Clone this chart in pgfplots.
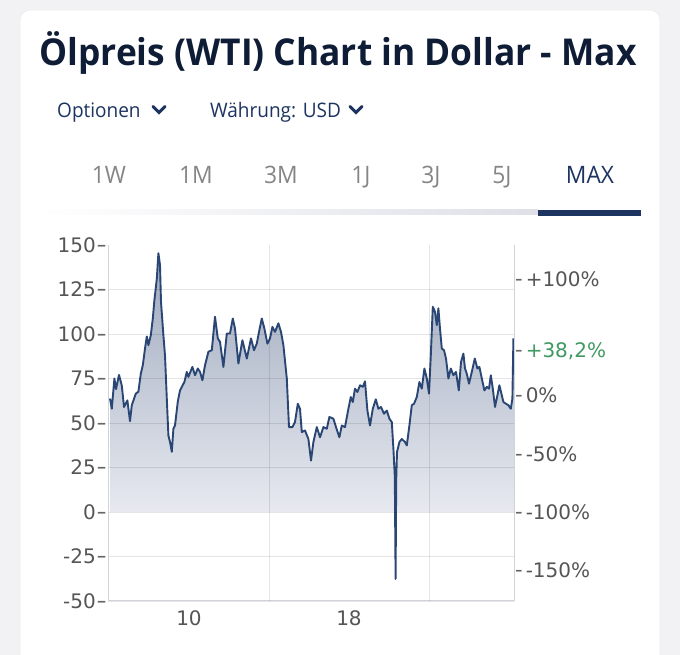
\documentclass[border=0pt]{standalone}
\usepackage{pgfplots}
\pgfplotsset{compat=1.18}
\usepackage{pgfplotstable}
\usepackage{fontspec}
\setmainfont{Open Sans}
\newfontfamily\tickfont{DejaVu Sans}
\definecolor{titlec}{HTML}{0E1C36}
\definecolor{uinavy}{HTML}{1D3460}
\definecolor{tabgray}{HTML}{858585}
\definecolor{linec}{HTML}{2A4674}
\definecolor{axisc}{HTML}{D0D3DA}
\definecolor{labc}{HTML}{555555}
\definecolor{tickc}{HTML}{666666}
\definecolor{greenc}{HTML}{3F9A62}
\definecolor{bgc}{HTML}{F2F2F4}
\definecolor{fillTop}{HTML}{9EA9BE}
\definecolor{fillBot}{HTML}{FAFAFC}
\definecolor{barc}{HTML}{DFE0E7}
\newcommand{\lt}[1]{#1\hspace{1pt}\textcolor{tickc}{\scalebox{0.6}[1]{−}}}
\newcommand{\rt}[1]{\textcolor{tickc}{\scalebox{0.45}[1]{−}}\hspace{3pt}#1}

\pgfplotstableread{
x y
2006.05 63.7
2006.14 58
2006.27 75
2006.35 69
2006.50 77
2006.64 71
2006.75 59
2006.92 62.7
2007.05 51
2007.14 60
2007.34 66.5
2007.47 67.6
2007.59 77.7
2007.69 82.4
2007.80 91.8
2007.89 98.6
2007.97 93.7
2008.09 99.3
2008.19 108.7
2008.27 119
2008.39 131
2008.47 145.4
2008.55 138.8
2008.60 118
2008.72 99.3
2008.80 88
2008.89 63.7
2008.97 43
2009.05 39.4
2009.14 33.8
2009.22 46.8
2009.30 48.6
2009.44 62
2009.55 68.3
2009.67 71
2009.77 73
2009.89 78.7
2009.97 75.9
2010.17 81.5
2010.30 76.8
2010.44 80.6
2010.55 78.7
2010.67 74
2010.80 82.4
2010.97 90
2011.14 90.9
2011.30 109.7
2011.44 97.5
2011.55 95.6
2011.72 81.5
2011.89 100.3
2012.05 100.3
2012.19 108.7
2012.30 103
2012.47 83.4
2012.67 96.5
2012.89 86.2
2013.10 97.5
2013.25 90.9
2013.39 94.6
2013.50 101.2
2013.64 108.7
2013.77 103
2013.92 94.6
2014.05 97.5
2014.17 104
2014.30 101.2
2014.47 106
2014.60 101.2
2014.72 93.7
2014.89 75
2015.00 47.7
2015.17 47.7
2015.30 50.5
2015.44 60.8
2015.55 58
2015.64 44.9
2015.80 45.8
2015.97 41
2016.10 28.9
2016.22 39.3
2016.39 47.7
2016.55 42
2016.72 47.7
2016.89 46.8
2017.02 53.4
2017.22 52.4
2017.35 47.7
2017.52 42
2017.64 48.6
2017.80 47.7
2017.97 58
2018.09 64.6
2018.19 61.8
2018.30 69.3
2018.42 67.4
2018.55 71.2
2018.69 70.3
2018.80 73.4
2018.92 57
2019.05 48.6
2019.19 58
2019.34 63.3
2019.47 58
2019.60 59
2019.75 55.2
2019.89 57
2020.02 52.4
2020.14 50.5
2020.22 35.5
2020.29 20
2020.33 -37.6
2020.36 18
2020.40 33.6
2020.52 39.3
2020.64 41
2020.80 39.3
2020.89 37.4
2021.02 48.6
2021.14 60
2021.25 60.8
2021.39 64.6
2021.52 73
2021.64 69.3
2021.77 80.6
2021.89 75
2022.00 66.5
2022.09 88
2022.19 115.3
2022.30 112.5
2022.39 105
2022.47 114.4
2022.55 103
2022.64 91.8
2022.75 90.9
2022.85 86.2
2022.97 75
2023.09 80.6
2023.22 76.8
2023.35 78.7
2023.49 68.3
2023.60 84.3
2023.72 89
2023.80 80.6
2023.89 77.7
2024.00 72.1
2024.14 78.7
2024.29 86.2
2024.42 80.6
2024.52 81.5
2024.64 75
2024.77 68.3
2024.89 70.3
2025.00 69.3
2025.09 76.8
2025.19 69.3
2025.30 59
2025.42 65.5
2025.52 71.2
2025.60 67.4
2025.72 61.8
2025.85 60.8
2025.97 60
2026.09 58
2026.17 63.7
2026.22 97.5
}\oil

\begin{document}
\begin{tikzpicture}
\begin{scope}[x=1pt,y=1pt]
\useasboundingbox (0,0) rectangle (680,655);
\fill[bgc] (0,0) rectangle (680,655);
\fill[white, rounded corners=10pt] (20,-20) rectangle (660,645);
\draw[black!7, line width=0.8pt, rounded corners=10pt] (20,-20) rectangle (660,645);
\node[anchor=base, text=titlec, font=\bfseries\fontsize{37}{44}\selectfont, inner sep=0pt] at (338,589) {\scalebox{0.955}[1]{Ölpreis (WTI) Chart in Dollar - Max}};
\node[anchor=base west, inner sep=0pt, text=uinavy, font=\fontsize{20}{24}\selectfont] at (57,537) {\scalebox{0.95}[1]{Optionen}};
\draw[uinavy, line width=3pt, line cap=round, line join=miter] (153,548.5)--(159,542.5)--(165,548.5);
\node[anchor=base west, inner sep=0pt, text=uinavy, font=\fontsize{20}{24}\selectfont] at (210,537) {\scalebox{0.95}[1]{Währung: USD}};
\draw[uinavy, line width=3pt, line cap=round, line join=miter] (350,548.5)--(356,542.5)--(362,548.5);
\foreach \xx/\tt in {109/1W,196/1M,281/3M,361/1J,431/3J,502/5J}
  \node[anchor=base, inner sep=0pt, text=tabgray, font=\fontsize{24}{28}\selectfont] at (\xx,471.5) {\scalebox{0.95}[1]{\tt}};
\node[anchor=base, inner sep=0pt, text=uinavy, font=\fontsize{24}{28}\selectfont] at (590,471.5) {\scalebox{0.95}[1]{MAX}};
\shade[left color=white, right color=barc] (40,440) rectangle (538,445);
\fill[uinavy] (538,439) rectangle (641,445);
\end{scope}

% main axis: area, line, grid, x labels
\begin{axis}[
  at={(108pt,54pt)}, anchor=south west,
  scale only axis, width=406pt, height=356pt,
  xmin=2005.95, xmax=2026.25, ymin=-50, ymax=150,
  axis x line*=bottom, axis y line*=left,
  axis line style={draw=axisc, line width=1pt, -},
  ytick={-50,-25,0,25,50,75,100,125},
  yticklabels={},
  ymajorgrids,
  major grid style={black, opacity=0.1, line width=0.8pt},
  xtick={2010,2018}, xticklabels={10,18},
  extra x ticks={2014,2022}, extra x tick labels={},
  extra x tick style={grid=major},
  major tick length=0pt,
  ticklabel style={font=\tickfont\fontsize{20}{24}\selectfont, text=labc},
  xticklabel style={inner sep=0pt, yshift=-9pt},
  axis on top,
  clip=false,
]
\addplot[draw=none, top color=fillTop, bottom color=fillBot] table {\oil} \closedcycle;
\addplot[linec, line width=1.9pt, line join=round, mark=none] table {\oil};
\end{axis}

% left labels with their tick dashes
\begin{axis}[
  at={(108pt,54pt)}, anchor=south west,
  scale only axis, width=406pt, height=356pt,
  xmin=2005.95, xmax=2026.25, ymin=-50, ymax=150,
  axis x line=none, axis y line*=left,
  axis line style={draw=axisc, line width=1pt, -},
  ytick={-50,-25,0,25,50,75,100,125,150},
  yticklabels={\lt{-50},\lt{-25},\lt{0},\lt{25},\lt{50},\lt{75},\lt{100},\lt{125},\lt{150}},
  major tick length=0pt,
  ticklabel style={font=\tickfont\fontsize{20}{24}\selectfont, text=labc},
  yticklabel style={inner sep=0pt, anchor=east, xshift=-1pt},
]
\end{axis}

% right percentage axis
\begin{axis}[
  at={(108pt,54pt)}, anchor=south west,
  scale only axis, width=406pt, height=356pt,
  xmin=2005.95, xmax=2026.25, ymin=-50, ymax=150,
  axis x line=none, axis y line*=right,
  axis line style={draw=axisc, line width=1pt, -},
  ytick={-32.7,0,32.7,65.4,130.8},
  yticklabels={\rt{-150\%},\rt{-100\%},\rt{-50\%},\rt{0\%},\rt{+100\%}},
  extra y ticks={90.4}, extra y tick labels={\rt{\textcolor{greenc}{+38,2\%}}},
  major tick length=0pt,
  ticklabel style={font=\tickfont\fontsize{20}{24}\selectfont, text=labc},
  yticklabel style={inner sep=0pt, anchor=west, xshift=1pt},
]
\end{axis}
\end{tikzpicture}
\end{document}
